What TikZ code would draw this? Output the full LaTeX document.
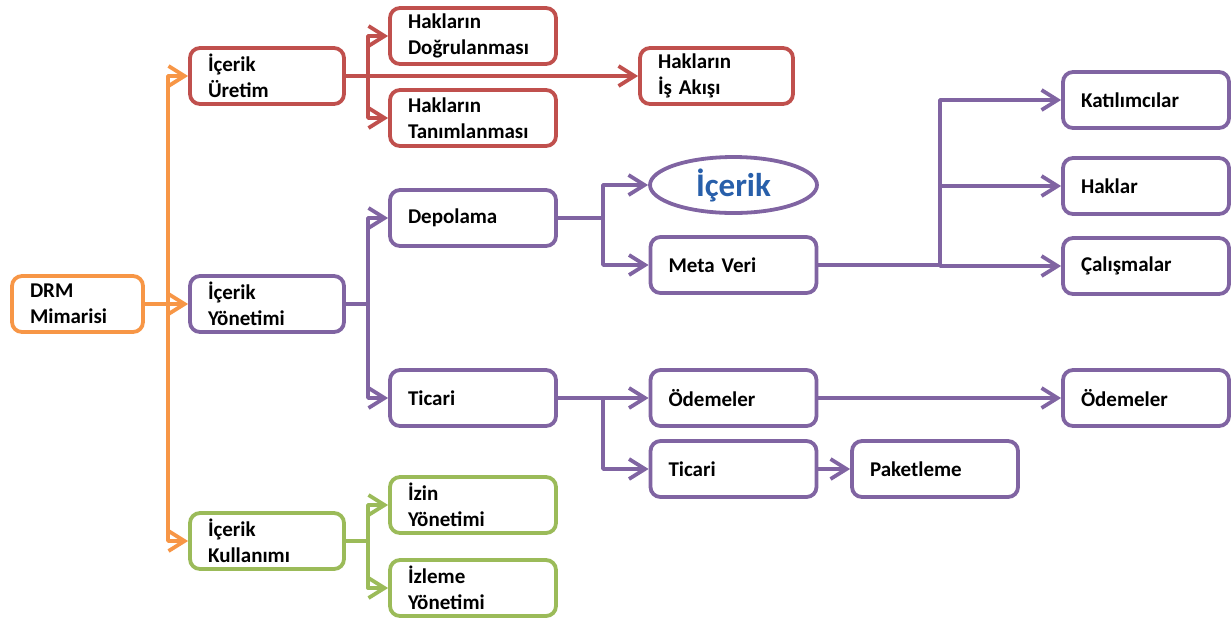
\documentclass[tikz,border=0pt]{standalone}
\usepackage{fontspec}
\setmainfont{Carlito}
\usetikzlibrary{arrows.meta,shapes.geometric}
\definecolor{turuncu}{RGB}{247,150,70}
\definecolor{kirmizi}{RGB}{192,80,77}
\definecolor{mor}{RGB}{128,100,162}
\definecolor{yesil}{RGB}{155,187,89}
\definecolor{mavi}{RGB}{40,95,170}
\tikzset{
  kutu/.style={draw=#1, rectangle, rounded corners=5pt, line width=1.9pt,
    minimum height=28pt, inner xsep=9pt, inner ysep=2pt, align=left,
    font=\fontsize{10.5}{13}\selectfont\bfseries},
  hat/.style={draw=#1, line width=1.9pt, line cap=round, line join=round,
    -{Straight Barb[length=8pt,width=10pt]}},
  dal/.style={draw=#1, line width=1.9pt, line cap=round, line join=round}
}
\begin{document}
\begin{tikzpicture}[x=0.5pt,y=-0.5pt]
\useasboundingbox (0,0) rectangle (1231,617);

% first level
\node[kutu=turuncu, text width=47.5pt] (drm) at (77.5,304) {DRM\\Mimarisi};
\node[kutu=kirmizi, text width=59pt] (uretim) at (267,76) {İçerik\\Üretim};
\node[kutu=mor, text width=59pt] (yonetim) at (267,304) {İçerik\\Yönetimi};
\node[kutu=yesil, text width=59pt] (kullanim) at (267,541) {İçerik\\Kullanımı};

% second level
\node[kutu=kirmizi, text width=65pt] (dogru) at (473,36) {Hakların\\Doğrulanması};
\node[kutu=kirmizi, text width=65pt] (tanim) at (473,118) {Hakların\\Tanımlanması};
\node[kutu=kirmizi, text width=58.5pt] (isakisi) at (716.5,76) {Hakların\\İş Akışı};
\node[kutu=mor, text width=65pt] (depolama) at (473,218) {Depolama};
\node[kutu=mor, text width=65pt] (ticari) at (473,398) {Ticari};
\node[kutu=yesil, text width=65pt] (izin) at (473,505) {İzin\\Yönetimi};
\node[kutu=yesil, text width=65pt] (izleme) at (473,588) {İzleme\\Yönetimi};

% third level
\node[draw=mor, ellipse, line width=1.9pt, minimum width=83.5pt, minimum height=28pt,
  inner sep=0pt, text=mavi, font=\fontsize{16.5}{20}\selectfont\bfseries] (icerik) at (733.5,185) {İçerik};
\node[kutu=mor, text width=65pt] (metaveri) at (733.5,265) {Meta Veri};
\node[kutu=mor, text width=65pt] (odeme) at (733.5,398) {Ödemeler};
\node[kutu=mor, text width=65pt] (ticari2) at (733.5,469) {Ticari};
\node[kutu=mor, text width=65pt] (paket) at (935,469) {Paketleme};
\node[kutu=mor, text width=65pt] (katilim) at (1146,100) {Katılımcılar};
\node[kutu=mor, text width=65pt] (haklar) at (1146,186) {Haklar};
\node[kutu=mor, text width=65pt] (calisma) at (1146,266) {Çalışmalar};
\node[kutu=mor, text width=65pt] (odeme2) at (1146,398) {Ödemeler};

% junctions
\coordinate (v1) at (168,304);
\coordinate (v2) at (368,76);
\coordinate (v3) at (368,304);
\coordinate (v4) at (368,541);
\coordinate (v5) at (603,218);
\coordinate (v6) at (940,265);
\coordinate (v7) at (603,398);

\draw[dal=turuncu] (drm.east) -- (v1);
\draw[hat=turuncu] (v1) |- (uretim.west);
\draw[hat=turuncu] (v1) -- (yonetim.west);
\draw[hat=turuncu] (v1) |- (kullanim.west);

\draw[hat=kirmizi] (uretim.east) -- (isakisi.west);
\draw[hat=kirmizi] (v2) |- (dogru.west);
\draw[hat=kirmizi] (v2) |- (tanim.west);

\draw[dal=mor] (yonetim.east) -- (v3);
\draw[hat=mor] (v3) |- (depolama.west);
\draw[hat=mor] (v3) |- (ticari.west);

\draw[dal=mor] (depolama.east) -- (v5);
\draw[hat=mor] (v5) |- (icerik.west);
\draw[hat=mor] (v5) |- (metaveri.west);

\draw[dal=mor] (metaveri.east) -- (v6);
\draw[hat=mor] (v6) |- (katilim.west);
\draw[hat=mor] (v6) |- (haklar.west);
\draw[hat=mor] (v6) |- (calisma.west);

\draw[dal=mor] (ticari.east) -- (v7);
\draw[hat=mor] (v7) -- (odeme.west);
\draw[hat=mor] (v7) |- (ticari2.west);
\draw[hat=mor] (odeme.east) -- (odeme2.west);
\draw[hat=mor] (ticari2.east) -- (paket.west);

\draw[dal=yesil] (kullanim.east) -- (v4);
\draw[hat=yesil] (v4) |- (izin.west);
\draw[hat=yesil] (v4) |- (izleme.west);
\end{tikzpicture}
\end{document}
